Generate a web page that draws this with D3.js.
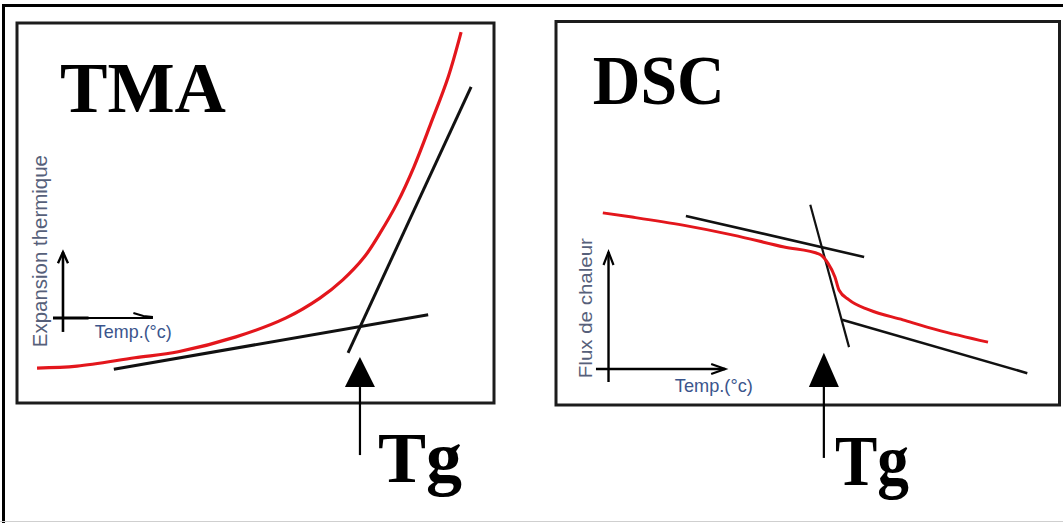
<!DOCTYPE html>
<html><head><meta charset="utf-8">
<script src="https://cdn.jsdelivr.net/npm/d3@7"></script>
<style>html,body{margin:0;padding:0;background:#fff;overflow:hidden}</style>
</head><body>
<svg id="c" width="1063" height="523"></svg>
<script>
// ---------- data (panel units: x = temperature 0..100, y = signal 0..100) ----------
const panelTitles = ["TMA", "DSC"];
const tgLabel = "Tg";
const tempLabel = "Temp.(°c)";
const tmaAxisLabel = "Expansion thermique";
const dscAxisLabel = "Flux de chaleur";

// TMA: expansion curve (red) and two tangents (black)
const tmaCurve = [[4.2,9.2],[12.6,9.7],[24.7,11.9],[33.8,13.5],[45.9,17.4],[56.4,22.4],[63.5,27.6],
                  [68.3,32.4],[72.8,38.4],[76.1,44.7],[79.7,52.6],[83.2,62.1],[86.8,73.7],[90.4,85.8],[93.1,97.6]];
const tmaTangentLow = [[20.3,8.9],[86.2,23.2]];
const tmaTangentHigh = [[69.4,13.2],[95.2,83.2]];
const tmaTg = 71.9;

// DSC: heat-flow curve (red) and three tangents (black)
const dscCurve = [[9.3,50.1],[15.1,49.0],[25.2,46.9],[35.2,44.3],[45.3,41.2],[52.4,39.3],[54.0,37.0],
                  [55.4,33.4],[56.2,30.0],[58.2,27.4],[62.2,24.8],[68.9,22.2],[75.7,19.6],[85.8,16.4]];
const dscTangentUp = [[25.8,49.3],[61.2,38.6]];
const dscTangentSteep = [[50.5,52.2],[58.2,15.1]];
const dscTangentLow = [[56.8,22.2],[93.6,8.3]];
const dscTg = 53.2;

// ---------- layout ----------
const svg = d3.select("#c");
const W = 1063, H = 523;
const red = "#e3161c", ink = "#111";

// outer frame
svg.append("line").attr("x1",3.5).attr("x2",3.5).attr("y1",4).attr("y2",H).attr("stroke","#000").attr("stroke-width",3);
svg.append("line").attr("x1",2).attr("x2",W).attr("y1",5.5).attr("y2",5.5).attr("stroke","#000").attr("stroke-width",3);
svg.append("line").attr("x1",0).attr("x2",W).attr("y1",521.5).attr("y2",521.5).attr("stroke","#cfcfcf").attr("stroke-width",1);

function panel(box) {
  const x = d3.scaleLinear().domain([0,100]).range([box.x0, box.x1]);
  const y = d3.scaleLinear().domain([0,100]).range([box.y1, box.y0]);
  const g = svg.append("g");
  g.append("rect").attr("x",box.x0).attr("y",box.y0)
    .attr("width",box.x1-box.x0).attr("height",box.y1-box.y0)
    .attr("fill","none").attr("stroke","#1c1c1c").attr("stroke-width",3);
  return {x, y, g};
}

function seg(p, pts, color, w) {
  p.g.append("line")
    .attr("x1",p.x(pts[0][0])).attr("y1",p.y(pts[0][1]))
    .attr("x2",p.x(pts[1][0])).attr("y2",p.y(pts[1][1]))
    .attr("stroke",color).attr("stroke-width",w).attr("stroke-linecap","butt");
}
function curve(p, pts, color, w, cf) {
  const line = d3.line().x(d=>p.x(d[0])).y(d=>p.y(d[1])).curve(cf);
  p.g.append("path").attr("d",line(pts)).attr("fill","none")
    .attr("stroke",color).attr("stroke-width",w).attr("stroke-linejoin","round");
}
function tgArrow(p, xv, tipY, baseY, lineEnd, half) {
  const cx = p.x(xv);
  p.g.append("path")
    .attr("d",`M${cx},${p.y(tipY)}L${cx-half},${p.y(baseY)}L${cx+half},${p.y(baseY)}Z`)
    .attr("fill","#000");
  p.g.append("line").attr("x1",cx).attr("x2",cx).attr("y1",p.y(baseY)).attr("y2",p.y(lineEnd))
    .attr("stroke","#000").attr("stroke-width",2.2);
}
function bigText(p, txt, xv, yv, size, len) {
  p.g.append("text").attr("x",p.x(xv)).attr("y",p.y(yv))
    .attr("font-family","'Liberation Serif','Times New Roman',serif")
    .attr("font-weight","bold").attr("font-size",size)
    .attr("textLength",len).attr("lengthAdjust","spacingAndGlyphs")
    .attr("fill","#000").text(txt);
}
function smallText(p, txt, xv, yv, size, len, color, rotate) {
  const t = p.g.append("text")
    .attr("font-family","'Liberation Sans',Arial,sans-serif")
    .attr("font-size",size).attr("fill",color)
    .attr("textLength",len).attr("lengthAdjust","spacingAndGlyphs").text(txt);
  if (rotate) t.attr("transform",`translate(${p.x(xv)},${p.y(yv)}) rotate(-90)`);
  else t.attr("x",p.x(xv)).attr("y",p.y(yv));
}

// ---------- TMA ----------
const tma = panel({x0:17, x1:494, y0:23, y1:403});
bigText(tma, panelTitles[0], 9.0, 76.6, 72, 166);
// mini axes
const tAx = tma.x(9.64), tAy = tma.y(22.37);
tma.g.append("line").attr("x1",tAx).attr("x2",tAx).attr("y1",tma.y(18.7)).attr("y2",tma.y(39.7))
  .attr("stroke","#000").attr("stroke-width",2.6);
tma.g.append("path").attr("d",`M${tAx-5},${tma.y(39.7)+11}L${tAx},${tma.y(39.7)}L${tAx+5},${tma.y(39.7)+11}`)
  .attr("fill","none").attr("stroke","#000").attr("stroke-width",2.4);
tma.g.append("line").attr("x1",tma.x(7.55)).attr("x2",tma.x(28.5)).attr("y1",tAy).attr("y2",tAy)
  .attr("stroke","#000").attr("stroke-width",2);
tma.g.append("line").attr("x1",tma.x(7.55)).attr("x2",tma.x(15)).attr("y1",tAy).attr("y2",tAy)
  .attr("stroke","#000").attr("stroke-width",3);
tma.g.append("path").attr("d",`M${tma.x(24.4)},${tAy-5}L${tma.x(26.5)},${tAy-2}L${tma.x(28.5)},${tAy-1}`)
  .attr("fill","none").attr("stroke","#000").attr("stroke-width",2);
smallText(tma, tempLabel, 16.3, 17.1, 19, 77, "#3b558c", false);
smallText(tma, tmaAxisLabel, 6.3, 14.7, 20, 192, "#56607a", true);
// curves
seg(tma, tmaTangentLow, ink, 3);
seg(tma, tmaTangentHigh, ink, 3);
curve(tma, tmaCurve, red, 3.2, d3.curveCatmullRom);
tgArrow(tma, tmaTg, 12.1, 4.2, -13.7, 15);
bigText(tma, tgLabel, 75.7, -20.8, 72, 84);

// ---------- DSC ----------
const dsc = panel({x0:556, x1:1059.5, y0:21.5, y1:405});
bigText(dsc, panelTitles[1], 7.3, 78.5, 70, 132);
const dAx = dsc.x(10.43), dAy = dsc.y(9.39);
dsc.g.append("line").attr("x1",dAx).attr("x2",dAx).attr("y1",dsc.y(6.0)).attr("y2",dsc.y(39.9))
  .attr("stroke","#000").attr("stroke-width",2.4);
dsc.g.append("path").attr("d",`M${dAx-5},${dsc.y(39.9)+13}L${dAx},${dsc.y(39.9)}L${dAx+5},${dsc.y(39.9)+13}`)
  .attr("fill","none").attr("stroke","#000").attr("stroke-width",2.2);
dsc.g.append("line").attr("x1",dsc.x(7.94)).attr("x2",dsc.x(33.6)).attr("y1",dAy).attr("y2",dAy)
  .attr("stroke","#000").attr("stroke-width",2.4);
dsc.g.append("path").attr("d",`M${dsc.x(33.6)-14},${dAy-5}L${dsc.x(33.6)},${dAy}L${dsc.x(33.6)-14},${dAy+5}`)
  .attr("fill","none").attr("stroke","#000").attr("stroke-width",2.2);
smallText(dsc, tempLabel, 23.6, 3.4, 19, 78, "#3b558c", false);
smallText(dsc, dscAxisLabel, 7.1, 7.0, 19, 140, "#56607a", true);
seg(dsc, dscTangentUp, ink, 2.6);
seg(dsc, dscTangentSteep, ink, 2.2);
seg(dsc, dscTangentLow, ink, 2.6);
curve(dsc, dscCurve, red, 3, d3.curveMonotoneX);
tgArrow(dsc, dscTg, 13.6, 4.7, -13.8, 15);
bigText(dsc, tgLabel, 55.4, -20.9, 72, 74);
</script>
</body></html>
